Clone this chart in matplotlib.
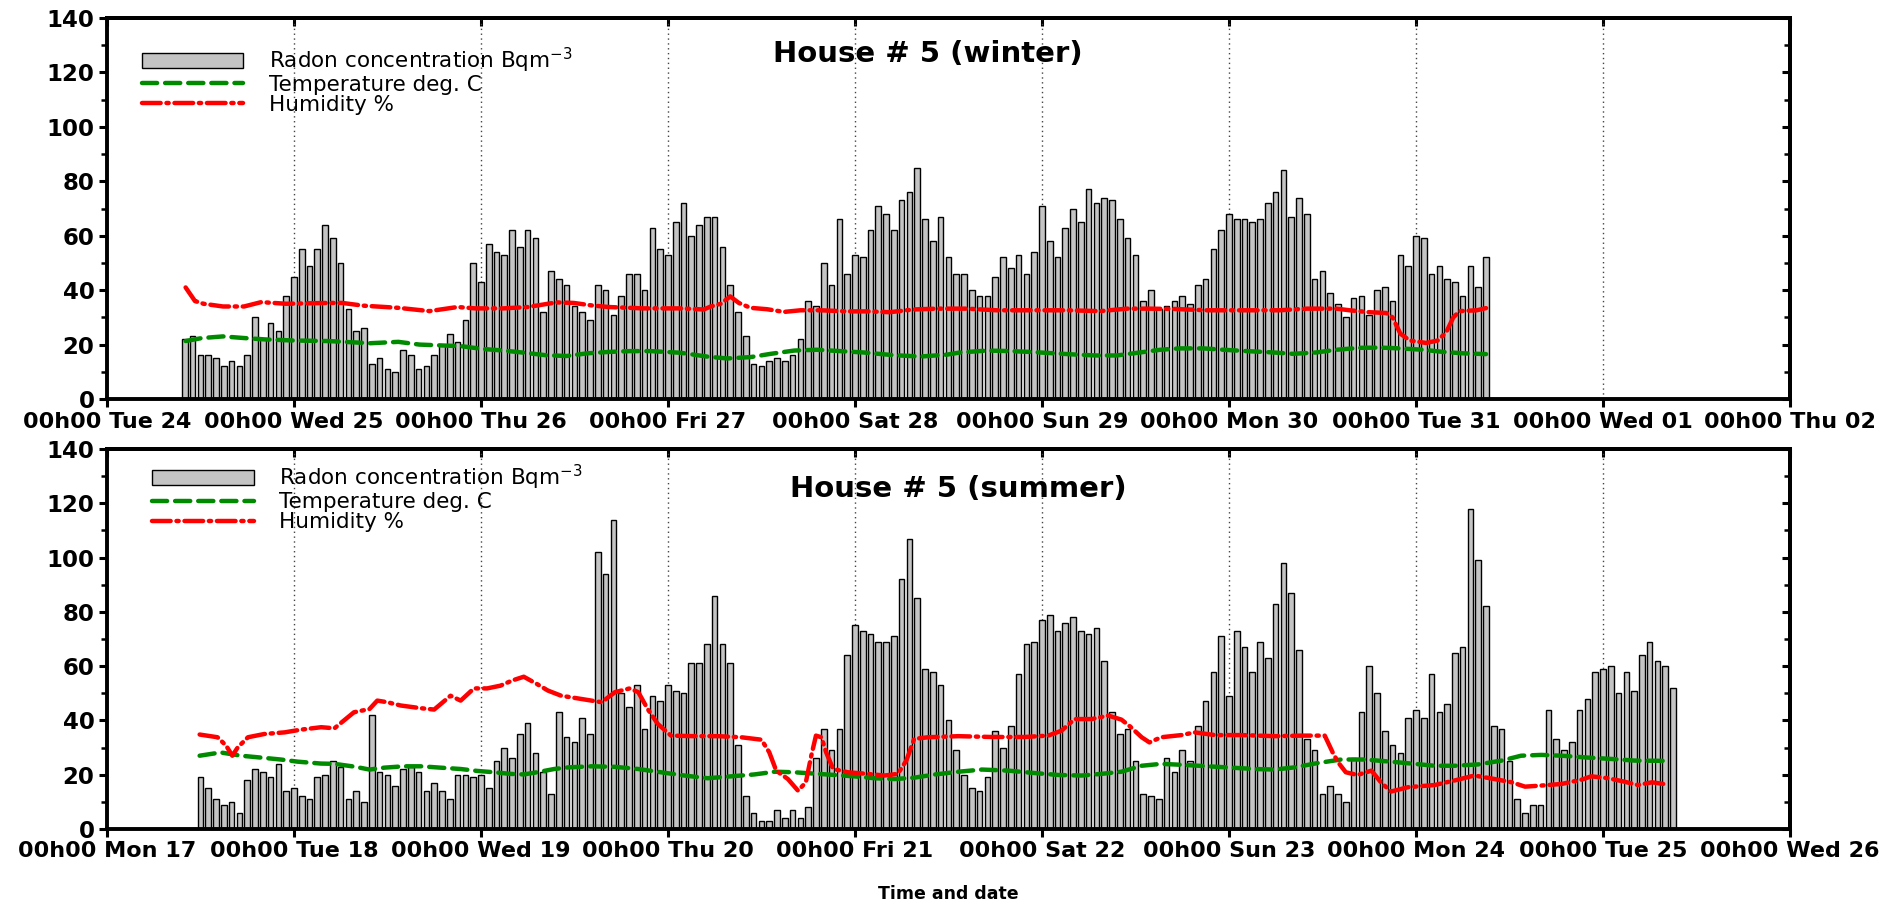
import matplotlib
matplotlib.use("Agg")
import matplotlib.pyplot as plt
from matplotlib.ticker import MultipleLocator, NullFormatter, FixedLocator
import numpy as np

plt.rcParams['font.family'] = ['DejaVu Sans']
plt.rcParams['mathtext.default'] = 'regular'

# ---------------- data ----------------
winter_tick_labels = ["00h00 Tue 24", "00h00 Wed 25", "00h00 Thu 26", "00h00 Fri 27",
                      "00h00 Sat 28", "00h00 Sun 29", "00h00 Mon 30", "00h00 Tue 31",
                      "00h00 Wed 01", "00h00 Thu 02"]
summer_tick_labels = ["00h00 Mon 17", "00h00 Tue 18", "00h00 Wed 19", "00h00 Thu 20",
                      "00h00 Fri 21", "00h00 Sat 22", "00h00 Sun 23", "00h00 Mon 24",
                      "00h00 Tue 25", "00h00 Wed 26"]

winter_start_hour = 10
winter_radon = [22, 23, 16, 16, 15, 12, 14, 12, 16, 30, 22, 28, 25, 38,
                45, 55, 49, 55, 64, 59, 50, 33, 25, 26, 13, 15, 11, 10, 18, 16, 11, 12, 16, 20, 24, 21, 29, 50,
                43, 57, 54, 53, 62, 56, 62, 59, 32, 47, 44, 42, 34, 32, 29, 42, 40, 31, 38, 46, 46, 40, 63, 55,
                53, 65, 72, 60, 64, 67, 67, 56, 42, 32, 23, 13, 12, 14, 15, 14, 16, 22, 36, 34, 50, 42, 66, 46,
                53, 52, 62, 71, 68, 62, 73, 76, 85, 66, 58, 67, 52, 46, 46, 40, 38, 38, 45, 52, 48, 53, 46, 54,
                71, 58, 52, 63, 70, 65, 77, 72, 74, 73, 66, 59, 53, 36, 40, 33, 34, 36, 38, 35, 42, 44, 55, 62,
                68, 66, 66, 65, 66, 72, 76, 84, 67, 74, 68, 44, 47, 39, 35, 30, 37, 38, 31, 40, 41, 36, 53, 49,
                60, 59, 46, 49, 44, 43, 38, 49, 41, 52]

winter_temp_h = [10.1, 12.2, 14.9, 17.6, 20.3, 23.9, 28.4, 31.1, 33.8, 37.4, 40.1, 42.8, 45.5, 48.2,
                 50.9, 53.6, 56.3, 59.0, 61.7, 64.4, 67.1, 69.8, 73.6, 77.0, 79.6, 82.6, 85.2, 88.2,
                 91.1, 94.1, 97.1, 101.0, 104.4, 107.8, 109.5, 113.0, 116.0, 118.5, 121.5, 124.5,
                 127.0, 129.6, 132.6, 135.2, 137.7, 140.7, 143.3, 146.3, 149.7, 152.2, 155.2, 157.8,
                 160.8, 163.4, 165.9, 168.9, 171.5, 174.0, 177.0]
winter_temp = [21.3, 22.4, 23.0, 22.4, 21.9, 21.5, 21.3, 20.9, 20.5, 21.0, 20.0, 19.7, 19.4, 18.4,
               17.8, 17.0, 16.1, 15.8, 16.8, 17.3, 17.6, 17.6, 17.0, 15.6, 14.9, 15.4, 16.6, 17.8,
               18.1, 17.6, 17.1, 16.1, 15.6, 16.3, 17.1, 17.8, 17.6, 17.3, 16.8, 16.3,
               16.0, 16.0, 17.1, 18.1, 18.6, 18.6, 18.1, 17.6, 17.1, 16.6, 17.1, 18.1,
               18.8, 18.9, 18.6, 18.1, 17.3, 16.8, 16.5]

winter_hum_h = [10.1, 11.3, 12.4, 14.9, 17.6, 19.8, 23.0, 28.4, 30.2, 32.9, 37.4, 41.4, 45.0, 47.3,
                50.9, 54.0, 57.7, 59.9, 62.2, 64.4, 68.9, 73.6, 76.6, 77.5, 78.8, 80.0, 81.1, 82.6,
                84.7, 86.9, 89.0, 91.6, 95.0, 97.6, 100.5, 103.5, 106.5, 110.4, 114.2, 118.5, 123.2,
                127.5, 130.9, 133.5, 136.9, 141.2, 145.4, 150.5, 154.0, 157.8, 159.5, 162.0, 164.2,
                165.0, 166.0, 167.2, 169.3, 170.8, 171.9, 172.8, 173.6, 175.8, 177.0]
winter_hum = [41.0, 36.0, 35.0, 34.0, 34.0, 35.6, 35.0, 35.3, 35.3, 34.3, 33.5, 32.3, 33.8, 33.3,
              33.3, 33.8, 35.5, 35.3, 34.4, 33.8, 33.3, 33.3, 32.9, 34.0, 35.0, 37.7, 35.3, 33.5,
              33.0, 32.0, 32.6, 32.6, 32.2, 32.2, 31.9, 32.9, 33.2, 33.2, 32.6, 32.6, 32.6,
              32.3, 33.2, 33.2, 33.1, 32.6, 32.6, 32.6, 33.2, 33.2, 32.6, 31.9, 31.6,
              30.0, 24.0, 21.5, 20.6, 21.5, 24.6, 30.0, 32.3, 32.6, 33.4]

summer_start_hour = 12
summer_radon = [19, 15, 11, 9, 10, 6, 18, 22, 21, 19, 24, 14,
                15, 12, 11, 19, 20, 25, 23, 11, 14, 10, 42, 21, 20, 16, 22, 23, 21, 14, 17, 14, 11, 20, 20, 19,
                20, 15, 25, 30, 26, 35, 39, 28, 21, 13, 43, 34, 32, 41, 35, 102, 94, 114, 50, 45, 53, 37, 49, 47,
                53, 51, 50, 61, 61, 68, 86, 68, 61, 31, 12, 6, 3, 3, 7, 4, 7, 4, 8, 26, 37, 29, 37, 64,
                75, 73, 72, 69, 69, 71, 92, 107, 85, 59, 58, 53, 40, 29, 20, 15, 14, 19, 36, 30, 38, 57, 68, 69,
                77, 79, 73, 76, 78, 73, 72, 74, 62, 43, 35, 37, 25, 13, 12, 11, 26, 21, 29, 25, 38, 47, 58, 71,
                49, 73, 67, 58, 69, 63, 83, 98, 87, 66, 33, 29, 13, 16, 13, 10, 26, 43, 60, 50, 36, 31, 28, 41,
                44, 41, 57, 43, 46, 65, 67, 118, 99, 82, 38, 37, 25, 11, 6, 9, 9, 44, 33, 29, 32, 44, 48, 58,
                59, 60, 50, 58, 51, 64, 69, 62, 60, 52]

summer_temp_h = [11.9, 14.6, 17.2, 19.8, 22.3, 24.5, 27.5, 29.2, 31.7, 33.7, 35.6, 38.1, 40.3, 42.8,
                 45.4, 47.5, 49.7, 51.8, 53.5, 55.2, 57.4, 59.2, 62.2, 65.2, 68.2, 71.1, 74.1, 77.1,
                 80.1, 83.1, 85.7, 88.2, 90.8, 93.4, 95.9, 98.5, 101.1, 103.6, 106.3, 109.3, 112.3,
                 115.7, 119.1, 122.1, 125.1, 127.6, 130.2, 132.8, 135.3, 138.3, 141.3, 144.3, 147.3,
                 149.9, 152.4, 155.4, 158.4, 161.4, 164.8, 167.8, 170.4, 173.0, 176.0, 179.0, 181.5,
                 184.1, 186.7, 190.1, 193.1, 196.1, 200.0]
summer_temp = [27.0, 28.2, 27.0, 26.3, 25.6, 24.8, 24.1, 24.0, 23.0, 21.9, 22.6, 23.1, 23.1, 22.6,
               22.1, 21.4, 20.9, 20.3, 20.1, 20.9, 22.1, 22.7, 23.1, 22.9, 22.1, 20.9, 19.7, 18.7,
               19.4, 20.1, 21.1, 20.9, 20.4, 19.9, 19.4, 18.7, 18.4, 18.9, 20.1, 21.1, 21.9,
               21.5, 20.6, 19.9, 19.7, 20.3, 21.1, 23.3, 24.0, 23.6, 23.1, 22.6, 22.1,
               21.9, 22.7, 24.3, 25.6, 25.6, 24.8, 24.0, 23.3, 23.3, 23.8, 25.2, 27.0,
               27.3, 27.0, 26.3, 25.8, 25.2, 25.1]

summer_hum_h = [11.9, 14.2, 15.3, 16.1, 16.8, 18.1, 20.2, 22.8, 24.9, 27.5, 29.2, 31.7, 33.7, 34.7,
                36.0, 37.7, 40.3, 42.0, 44.1, 45.4, 47.1, 48.8, 50.5, 52.0, 53.5, 55.2, 56.6, 58.3,
                60.9, 63.5, 65.2, 67.1, 68.2, 69.4, 70.7, 72.4, 75.4, 78.4, 81.4, 84.0, 85.0, 85.9,
                87.4, 88.7, 89.7, 90.4, 91.0, 91.7, 92.3, 93.2, 95.1, 97.6, 99.8, 101.5, 102.6, 103.6,
                105.4, 109.3, 113.5, 117.8, 120.8, 122.5, 124.2, 126.4, 128.5, 130.2, 131.3, 132.8,
                133.8, 135.3, 137.9, 139.6, 142.2, 145.6, 149.9, 153.3, 156.3, 157.3, 158.0, 159.0,
                160.5, 162.3, 163.5, 164.8, 167.0, 170.4, 173.0, 175.5, 178.1, 180.3, 182.0, 184.1,
                186.7, 189.3, 190.5, 192.7, 194.8, 196.5, 198.3, 200.0]
summer_hum = [34.8, 33.8, 30.7, 27.0, 30.1, 33.8, 35.0, 35.6, 36.6, 37.5, 37.1, 43.0, 44.2, 47.3,
              46.7, 45.5, 44.5, 44.0, 49.1, 47.3, 51.8, 51.8, 52.8, 54.7, 56.1, 53.4, 51.0, 49.1,
              47.9, 46.7, 50.4, 51.8, 50.4, 44.2, 38.7, 34.4, 34.2, 34.2, 33.8, 32.9, 28.3, 21.5,
              18.4, 14.1, 17.2, 27.0, 34.4, 33.8, 28.3, 22.1, 20.9, 20.3, 19.7, 20.3, 25.2, 33.2,
              33.8, 34.2, 33.9, 33.9, 34.4, 36.2, 40.5, 40.5, 41.8, 40.3, 37.8, 33.8,
              31.9, 33.8, 34.6, 35.6, 34.6, 34.6, 34.2, 34.4, 34.4, 28.3, 24.6, 20.9,
              19.9, 21.5, 17.2, 13.8, 15.4, 16.2, 17.9, 19.7, 18.4, 17.2, 15.6, 16.0,
              16.6, 18.2, 19.4, 18.7, 17.4, 16.2, 17.2, 16.5]

titles = ["House # 5 (winter)", "House # 5 (summer)"]
legend_labels = ["Radon concentration Bqm$^{-3}$", "Temperature deg. C", "Humidity %"]
xlabel = "Time and date"

# ---------------- figure ----------------
fig = plt.figure(figsize=(18.79, 9.06), dpi=100)
ax_top = fig.add_axes([0.0569, 0.5596, 0.8957, 0.4205])
ax_bot = fig.add_axes([0.0569, 0.0850, 0.8957, 0.4194])

panels = [
    (ax_top, winter_start_hour, winter_radon, winter_temp_h, winter_temp, winter_hum_h, winter_hum,
     winter_tick_labels, titles[0], (0.488, 0.905), (0.021, 0.928)),
    (ax_bot, summer_start_hour, summer_radon, summer_temp_h, summer_temp, summer_hum_h, summer_hum,
     summer_tick_labels, titles[1], (0.506, 0.895), (0.027, 0.963)),
]

green = '#008a00'
red = '#ff0000'

for (ax, h0, radon, th, tv, hh, hv, ticklabels, title, tpos, lpos) in panels:
    hours = np.arange(h0, h0 + len(radon))
    bars = ax.bar(hours, radon, width=0.72, color='#c4c4c4', edgecolor='black',
                  linewidth=1.0, zorder=2)
    ltemp, = ax.plot(th, tv, color=green, linewidth=3.2, dashes=(3.4, 1.8), zorder=3,
                     dash_capstyle='round')
    lhum, = ax.plot(hh, hv, color=red, linewidth=3.2, dashes=(4.2, 1.3, 0.5, 1.3), zorder=4,
                    dash_capstyle='round')

    ax.set_xlim(0, 216)
    ax.set_ylim(0, 140)
    ax.set_axisbelow(True)
    ax.xaxis.set_major_locator(FixedLocator(np.arange(0, 217, 24)))
    ax.set_xticklabels(ticklabels, fontsize=16, fontweight='bold')
    ax.yaxis.set_major_locator(MultipleLocator(20))
    ax.yaxis.set_minor_locator(MultipleLocator(10))
    for lab in ax.get_yticklabels():
        lab.set_fontsize(16.5)
        lab.set_fontweight('bold')
    ax.tick_params(axis='both', which='major', direction='out', length=6, width=2.2, pad=3)
    ax.tick_params(axis='y', which='minor', direction='out', length=4, width=1.8)
    ax.grid(axis='x', linestyle=(0, (1, 2.5)), color='#444444', linewidth=1.0)
    for sp in ax.spines.values():
        sp.set_linewidth(2.8)

    sec_y = ax.secondary_yaxis('right')
    sec_y.yaxis.set_major_locator(MultipleLocator(20))
    sec_y.yaxis.set_minor_locator(MultipleLocator(10))
    sec_y.yaxis.set_major_formatter(NullFormatter())
    sec_y.tick_params(which='major', direction='in', length=6, width=2.2)
    sec_y.tick_params(which='minor', direction='in', length=4, width=1.8)
    sec_y.spines['right'].set_linewidth(2.8)

    sec_x = ax.secondary_xaxis('top')
    sec_x.xaxis.set_major_locator(FixedLocator(np.arange(0, 217, 24)))
    sec_x.xaxis.set_major_formatter(NullFormatter())
    sec_x.tick_params(which='major', direction='in', length=6, width=2.2)
    sec_x.spines['top'].set_linewidth(2.8)

    ax.text(tpos[0], tpos[1], title, transform=ax.transAxes, ha='center', va='center',
            fontsize=21, fontweight='bold')

    ax.legend([bars, ltemp, lhum], legend_labels, loc='upper left', bbox_to_anchor=lpos,
              frameon=False, fontsize=15.5, handlelength=4.7, handletextpad=1.2,
              labelspacing=0.0, borderaxespad=0, borderpad=0)

ax_bot.set_xlabel(xlabel, fontsize=12.5, fontweight='bold', labelpad=17)

fig.savefig("out.png", dpi=100)
